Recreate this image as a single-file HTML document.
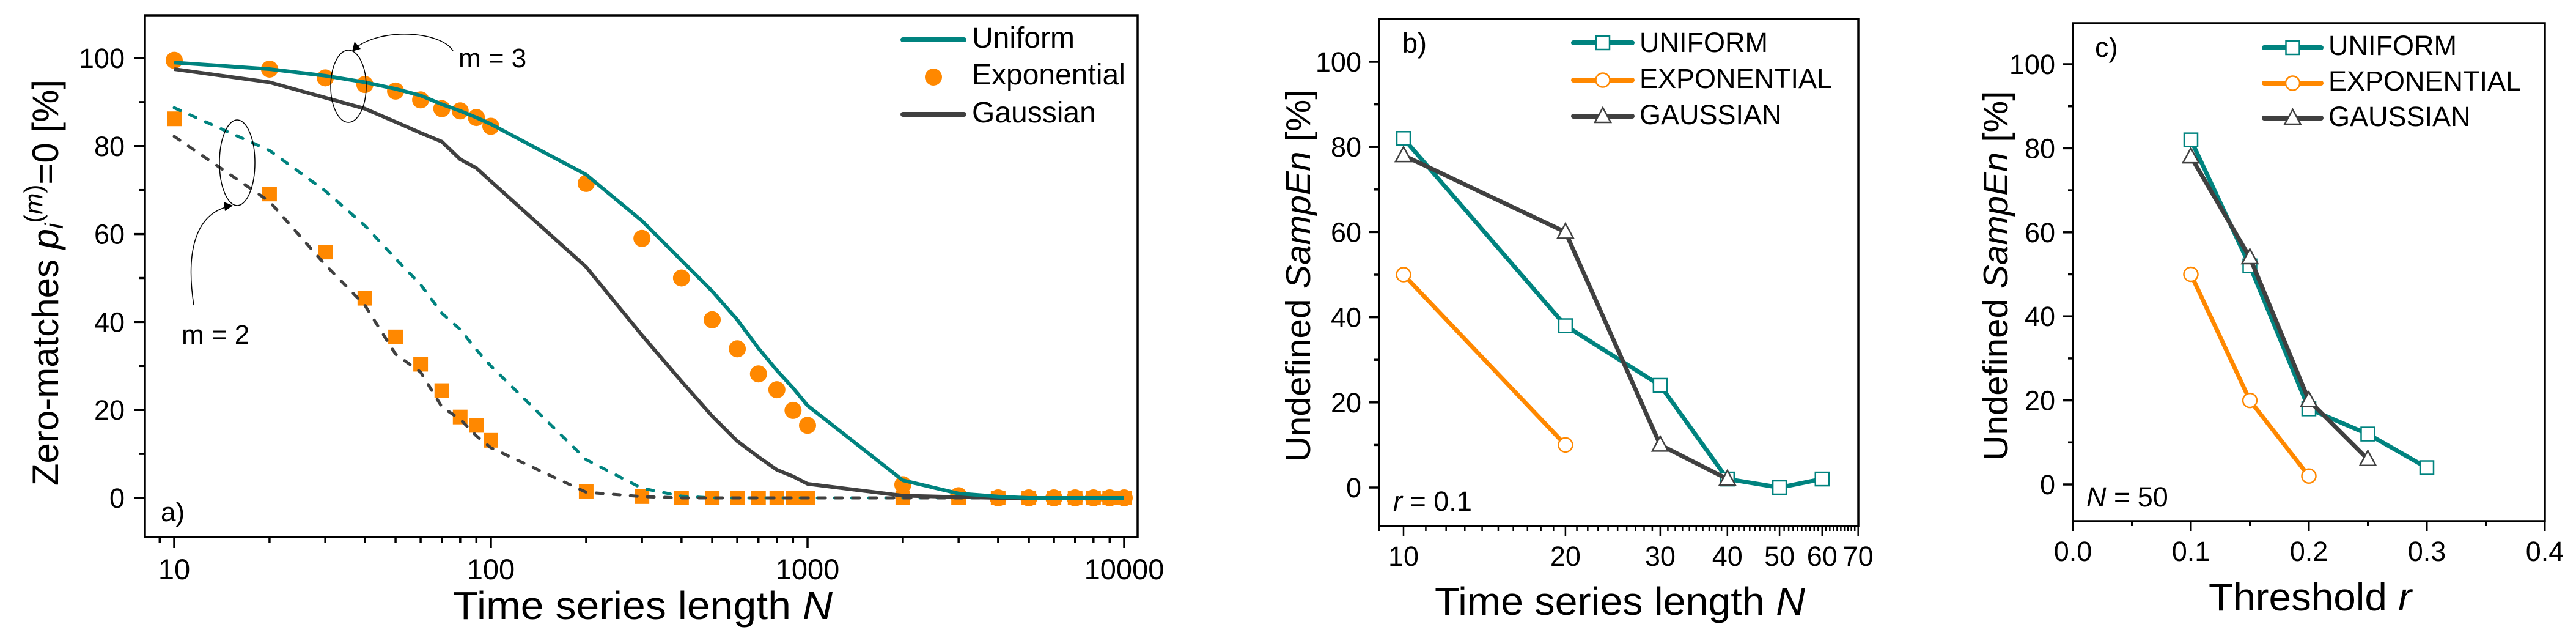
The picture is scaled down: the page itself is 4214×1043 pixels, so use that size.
<!DOCTYPE html>
<html><head><meta charset="utf-8">
<style>
html,body{margin:0;padding:0;background:#fff;}
svg{display:block;font-family:"Liberation Sans",Arial,sans-serif;}
</style></head>
<body>
<svg id="chart" width="4214" height="1043" viewBox="0 0 4214 1043" xmlns="http://www.w3.org/2000/svg">
<rect width="4214" height="1043" fill="#fff"/>
<g id="pa"></g>
<g id="pb"></g>
<g id="pc"></g>
</svg>
<script>
// ---------- Panel a data ----------
const aN = [10,20,30,40,50,60,70,80,90,100,200,300,400,500,600,700,800,900,1000,2000,3000,4000,5000,6000,7000,8000,9000,10000];
const aUniformM3 = [99,97.5,96,94.5,93,91.5,89.5,88,86.5,85,73.5,63,54,47,40.5,34,29,25,21,4,1,0.3,0,0,0,0,0,0];
const aGaussM3 = [97.5,94.5,91,88.5,85.5,83,81,77,75,72,52.5,37,26.5,18.6,12.9,9.3,6.4,4.9,3.2,0.5,0.2,0,0,0,0,0,0,0];
const aExpM3 = [99.5,97.5,95.5,94,92.5,90.5,88.5,88,86.5,84.5,71.5,59,50,40.5,33.9,28.2,24.6,19.9,16.5,3,0.5,0,0,0,0,0,0,0];
const aUniformM2 = [88.7,79,69.8,61.9,54.4,48.5,42,38.3,33.7,30,8.7,2.2,0.4,0,0,0,0,0,0,0,0,0,0,0,0,0,0,0];
const aGaussM2 = [82.2,67.4,53,43.8,32.7,28.6,20.7,17.9,14.1,11.4,1.3,0.3,0,0,0,0,0,0,0,0,0,0,0,0,0,0,0,0];
const aExpM2 = [86.2,69.1,55.9,45.4,36.6,30.4,24.4,18.4,16.5,13.1,1.5,0.3,0,0,0,0,0,0,0,0,0,0,0,0,0,0,0,0];
const aXTicks = [10,100,1000,10000];
const aXTickLabels = ["10","100","1000","10000"];
const aYTicks = [0,20,40,60,80,100];
// ---------- Panel b data ----------
const bUniN = [10,20,30,40,50,60];
const bUni = [82,38,24,2,0,2];
const bExpN = [10,20];
const bExp = [50,10];
const bGauN = [10,20,30,40];
const bGau = [78,60,10,2];
const bXTicks = [10,20,30,40,50,60,70];
const bXTickLabels = ["10","20","30","40","50","60","70"];
// ---------- Panel c data ----------
const cUniR = [0.1,0.15,0.2,0.25,0.3];
const cUni = [82,52,18,12,4];
const cExpR = [0.1,0.15,0.2];
const cExp = [50,20,2];
const cGauR = [0.1,0.15,0.2,0.25];
const cGau = [78,54,20,6];
const cXTicks = [0,0.1,0.2,0.3,0.4];
const cXTickLabels = ["0.0","0.1","0.2","0.3","0.4"];
const yTicksBC = [0,20,40,60,80,100];

const TEAL="#00837f", ORANGE="#ff8800", DARK="#404040";
const NS="http://www.w3.org/2000/svg";
function mk(parent,tag,attrs,text){
  const e=document.createElementNS(NS,tag);
  for(const k in attrs) e.setAttribute(k,attrs[k]);
  if(text!==undefined) e.textContent=text;
  parent.appendChild(e);
  return e;
}

// ================= PANEL A =================
(function(){
  const g=document.getElementById('pa');
  const L=237,R=1861,T=25,B=878;
  const x=v=>285+518*(Math.log10(v)-1);
  const y=v=>814-7.19*v;
  // markers first (below lines)
  aN.forEach((n,i)=>{
    const s=mk(g,'rect',{x:x(n)-12,y:y(aExpM2[i])-12,width:24,height:24,fill:ORANGE});
    
    
  });
  aN.forEach((n,i)=>{
    const c=mk(g,'circle',{cx:x(n),cy:y(aExpM3[i]),r:14,fill:ORANGE});
    
    
  });
  const pts=arr=>aN.map((n,i)=>x(n).toFixed(1)+','+y(arr[i]).toFixed(1)).join(' ');
  let p;
  p=mk(g,'polyline',{points:pts(aUniformM2),fill:'none',stroke:TEAL,'stroke-width':5,'stroke-dasharray':'11 17','stroke-linecap':'round'});
   
  p=mk(g,'polyline',{points:pts(aGaussM2),fill:'none',stroke:DARK,'stroke-width':5,'stroke-dasharray':'11 17','stroke-linecap':'round'});
   
  p=mk(g,'polyline',{points:pts(aGaussM3),fill:'none',stroke:DARK,'stroke-width':6,'stroke-linejoin':'round'});
   
  p=mk(g,'polyline',{points:pts(aUniformM3),fill:'none',stroke:TEAL,'stroke-width':6,'stroke-linejoin':'round'});
   
  // frame
  const f=mk(g,'rect',{x:L,y:T,width:R-L,height:B-T,fill:'none',stroke:'#000','stroke-width':3.5});
   
  // y ticks
  for(let v=0;v<=100;v+=10){
    const major=v%20===0;
    const t=mk(g,'line',{x1:L,x2:L-(major?18:9),y1:y(v),y2:y(v),stroke:'#000','stroke-width':3.5});
     
  }
  aYTicks.forEach(v=>{
    const t=mk(g,'text',{x:204,y:y(v)+16,'text-anchor':'end','font-size':45},String(v));
     
  });
  // x ticks
  for(let d=1;d<=4;d++){
    for(let k=1;k<=9;k++){
      const v=k*Math.pow(10,d);
      if(v>10000) break;
      const major=(k===1);
      const t=mk(g,'line',{x1:x(v),x2:x(v),y1:B,y2:B+(major?18:9),stroke:'#000','stroke-width':3.5});
       
    }
  }
  const t9=mk(g,'line',{x1:x(9),x2:x(9),y1:B,y2:B+9,stroke:'#000','stroke-width':3.5});
   
  aXTicks.forEach((v,i)=>{
    const t=mk(g,'text',{x:x(v),y:947,'text-anchor':'middle','font-size':47},aXTickLabels[i]);
     
  });
})();
</script>
<svg width="0" height="0"></svg>
<script>
(function(){
  const svg=document.getElementById('chart');
  const g=document.getElementById('pa');
  g.insertAdjacentHTML('beforeend',`
  <text x="741" y="1012" font-size="64" textLength="621" lengthAdjust="spacingAndGlyphs">Time series length <tspan font-style="italic">N</tspan></text>
  <text transform="translate(95,462) rotate(-90)" text-anchor="middle" font-size="60">Zero-matches <tspan font-style="italic">p</tspan><tspan font-style="italic" font-size="42" dy="8">i</tspan><tspan font-size="42" dy="-34">(</tspan><tspan font-size="42" font-style="italic">m</tspan><tspan font-size="42">)</tspan><tspan dy="26">=0 [%]</tspan></text>
  <g>
    <line x1="1477" y1="65" x2="1577" y2="65" stroke="#00837f" stroke-width="8" stroke-linecap="round"/>
    <text x="1590" y="78" font-size="48">Uniform</text>
    <circle cx="1527" cy="126" r="14" fill="#ff8800"/>
    <text x="1590" y="138" font-size="48">Exponential</text>
    <line x1="1477" y1="187" x2="1577" y2="187" stroke="#404040" stroke-width="8" stroke-linecap="round"/>
    <text x="1590" y="200" font-size="48">Gaussian</text>
  </g>
  <ellipse cx="570" cy="141" rx="29" ry="59" fill="none" stroke="#000" stroke-width="1.5"/>
  <path d="M741,83 C720,50 620,45 580,80" fill="none" stroke="#000" stroke-width="1.5"/>
  <path d="M576,84 L580,68 L590,80 Z" fill="#000"/>
  <text x="750" y="110" font-size="44">m = 3</text>
  <ellipse cx="388" cy="266" rx="29" ry="70" fill="none" stroke="#000" stroke-width="1.5"/>
  <path d="M317,499 C305,420 315,350 376,337" fill="none" stroke="#000" stroke-width="1.5"/>
  <path d="M381,336 L366,330 L368,345 Z" fill="#000"/>
  <text x="297" y="562" font-size="44">m = 2</text>
  <text x="263" y="852" font-size="44">a)</text>
  `);
})();
</script>
<script>
// ================= PANELS B & C =================
(function(){
  const NS="http://www.w3.org/2000/svg";
  const TEAL="#00837f", ORANGE="#ff8800", DARK="#404040";
  function mk(parent,tag,attrs,text){
    const e=document.createElementNS(NS,tag);
    for(const k in attrs) e.setAttribute(k,attrs[k]);
    if(text!==undefined) e.textContent=text;
    parent.appendChild(e);
    return e;
  }
  function marker(g,kind,cx,cy,color){
    let m;
    if(kind==='square') m=mk(g,'rect',{x:cx-11,y:cy-11,width:22,height:22,fill:'#fff',stroke:color,'stroke-width':2.5});
    else if(kind==='circle') m=mk(g,'circle',{cx:cx,cy:cy,r:11.5,fill:'#fff',stroke:color,'stroke-width':2.5});
    else m=mk(g,'polygon',{points:`${cx},${cy-14} ${cx-13},${cy+10} ${cx+13},${cy+10}`,fill:'#fff',stroke:color,'stroke-width':2.5});
    return m;
  }
  function series(g,xs,ys,x,y,color,kind,name){
    const p=mk(g,'polyline',{points:xs.map((v,i)=>x(v).toFixed(1)+','+y(ys[i]).toFixed(1)).join(' '),fill:'none',stroke:color,'stroke-width':7,'stroke-linejoin':'round'});
    
    
    xs.forEach((v,i)=>{
      const m=marker(g,kind,x(v),y(ys[i]),color);
      
      
    });
  }
  function legend(g,lx,rows,tx,bases){
    const items=[[TEAL,'square','UNIFORM','uniform'],[ORANGE,'circle','EXPONENTIAL','exponential'],[DARK,'triangle','GAUSSIAN','gaussian']];
    items.forEach((it,i)=>{
      const l=mk(g,'line',{x1:lx[0],x2:lx[1],y1:rows[i],y2:rows[i],stroke:it[0],'stroke-width':8,'stroke-linecap':'round'});
      
      
      const m=marker(g,it[1],(lx[0]+lx[1])/2,rows[i],it[0]);
      
      
      const t=mk(g,'text',{x:tx,y:bases[i],'font-size':45},it[2]);
      
      
    });
  }
  function yAxis(g,L,y,labelX){
    for(let v=0;v<=100;v+=10){
      const major=v%20===0;
      const t=mk(g,'line',{x1:L,x2:L-(major?16:8),y1:y(v),y2:y(v),stroke:'#000','stroke-width':3.5});
       
    }
    yTicksBC.forEach(v=>{
      const t=mk(g,'text',{x:labelX,y:y(v)+16,'text-anchor':'end','font-size':45},String(v));
       
    });
  }

  // ---- Panel b ----
  {
    const g=document.getElementById('pb');
    const L=2256,R=3040,T=31,B=860;
    const x=v=>2296+880*(Math.log10(v)-1);
    const y=v=>797-6.96*v;
    series(g,bExpN,bExp,x,y,ORANGE,'circle','exponential');
    series(g,bUniN,bUni,x,y,TEAL,'square','uniform');
    series(g,bGauN,bGau,x,y,DARK,'triangle','gaussian');
    const f=mk(g,'rect',{x:L,y:T,width:R-L,height:B-T,fill:'none',stroke:'#000','stroke-width':3.5});
     
    yAxis(g,L,y,2227);
    for(let v=9;v<=70;v++){
      const major=(v%10===0);
      const t=mk(g,'line',{x1:x(v),x2:x(v),y1:B,y2:B+(major?16:8),stroke:'#000','stroke-width':2.5});
       
    }
    bXTicks.forEach((v,i)=>{
      const t=mk(g,'text',{x:x(v),y:925,'text-anchor':'middle','font-size':45},bXTickLabels[i]);
       
    });
    legend(g,[2574,2670],[70,131,190],2682,[85,144,203]);
    g.insertAdjacentHTML('beforeend',`
      <text x="2294" y="86" font-size="45">b)</text>
      <text x="2279" y="835" font-size="45"><tspan font-style="italic">r</tspan> = 0.1</text>
      <text x="2347" y="1005" font-size="64" textLength="606" lengthAdjust="spacingAndGlyphs">Time series length <tspan font-style="italic">N</tspan></text>
      <text transform="translate(2143,451) rotate(-90)" text-anchor="middle" font-size="57" textLength="609" lengthAdjust="spacingAndGlyphs">Undefined <tspan font-style="italic">SampEn</tspan> [%]</text>
    `);
  }
  // ---- Panel c ----
  {
    const g=document.getElementById('pc');
    const L=3391,R=4163,T=38,B=852;
    const x=v=>L+(R-L)*v/0.4;
    const y=v=>792-6.87*v;
    series(g,cExpR,cExp,x,y,ORANGE,'circle','exponential');
    series(g,cUniR,cUni,x,y,TEAL,'square','uniform');
    series(g,cGauR,cGau,x,y,DARK,'triangle','gaussian');
    const f=mk(g,'rect',{x:L,y:T,width:R-L,height:B-T,fill:'none',stroke:'#000','stroke-width':3.5});
     
    yAxis(g,L,y,3362);
    for(let k=0;k<=8;k++){
      const v=k*0.05, major=(k%2===0);
      const t=mk(g,'line',{x1:x(v),x2:x(v),y1:B,y2:B+(major?16:8),stroke:'#000','stroke-width':3});
       
    }
    cXTicks.forEach((v,i)=>{
      const t=mk(g,'text',{x:x(v),y:917,'text-anchor':'middle','font-size':45},cXTickLabels[i]);
       
    });
    legend(g,[3704,3797],[78,136,193],3809,[90,148,206]);
    g.insertAdjacentHTML('beforeend',`
      <text x="3427" y="93" font-size="45">c)</text>
      <text x="3413" y="828" font-size="45"><tspan font-style="italic">N</tspan> = 50</text>
      <text x="3613" y="998" font-size="64" textLength="332" lengthAdjust="spacingAndGlyphs">Threshold <tspan font-style="italic">r</tspan></text>
      <text transform="translate(3284,451) rotate(-90)" text-anchor="middle" font-size="57" textLength="605" lengthAdjust="spacingAndGlyphs">Undefined <tspan font-style="italic">SampEn</tspan> [%]</text>
    `);
  }
})();
</script>
</body></html>
